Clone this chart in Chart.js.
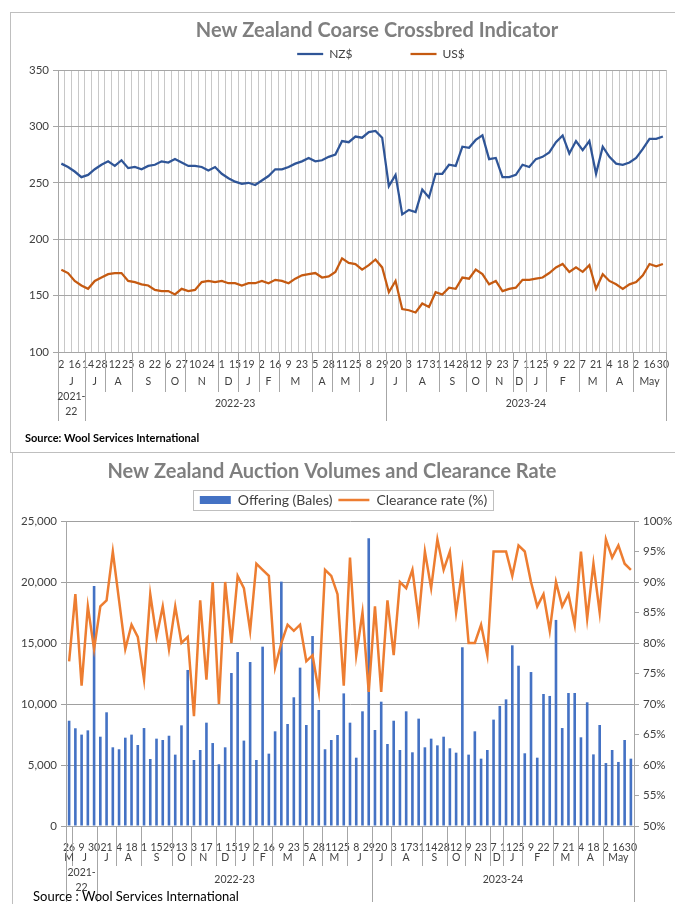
<!DOCTYPE html>
<html><head><meta charset="utf-8">
<script src="https://cdn.jsdelivr.net/npm/chart.js@4.4.1/dist/chart.umd.min.js"></script>
<style>
html,body{margin:0;padding:0;background:#fff;}
body{width:675px;height:904px;position:relative;overflow:hidden;}
.wrap{position:absolute;left:0;width:675px;height:452px;}
#w1{top:0}
#w2{top:452px}
.frame{position:absolute;border:1px solid #bfbfbf;box-sizing:border-box;pointer-events:none;z-index:2}
</style></head><body>
<div class="wrap" id="w1"><canvas id="c1" width="675" height="452"></canvas></div>
<div class="wrap" id="w2"><canvas id="c2" width="675" height="452"></canvas></div>
<div class="frame" style="left:10px;top:12px;width:700px;height:441px"></div>
<div class="frame" style="left:12px;top:452px;width:700px;height:470px"></div>
<script>
// ---------- DATA ----------
const topDayLabels = ['2','16','14','28','12','25','8','22','6','27','10','24','1','15','19','2','16','9','23','5','28','11','25','8','29','20','3','17','31','14','28','12','9','23','7','11','25','9','22','7','21','4','18','2','16','30'];
const topMonths = ['J','J','A','S','O','N','D','J','F','M','A','M','J','J','A','S','O','N','D','J','F','M','A','May'];
const topMonthSizes = [4,3,4,5,3,5,3,3,3,5,3,4,4,3,5,4,3,4,2,3,5,4,4,5];
const topSeasons = ['2021-\n22','2022-23','2023-24'];
const topSeasonSizes = [4,45,42];

const nzd = [267,264,260,255,257,262,266,269,265,270,263,264,262,265,266,269,268,271,268,265,
  265,264,261,264,258,254,251,249,250,248,252,256,262,262,264,267,269,272,269,270,
  273,275,287,286,291,290,295,296,290,247,257,222,226,224,244,237,258,258,266,265,
  282,281,288,292,271,272,255,255,257,266,264,271,273,277,286,292,276,287,279,287,
  258,282,273,267,266,268,272,280,289,289,291];
const usd = [173,170,163,159,156,163,166,169,170,170,163,162,160,159,155,154,154,151,156,154,
  155,162,163,162,163,161,161,159,161,161,163,161,164,163,161,165,168,169,170,166,
  167,171,183,179,178,173,177,182,175,153,163,138,137,135,143,140,153,151,157,156,
  166,165,173,169,160,163,154,156,157,164,164,165,166,170,175,178,171,175,171,177,
  156,169,163,160,156,160,162,168,178,176,178];

const bottomDayLabels = ['26','9','30','21','4','18','1','15','29','13','3','17','1','15','19','2','16','9','23','5','28','11','25','8','29','20','3','17','31','14','28','12','9','23','7','11','25','9','22','7','21','4','18','2','16','30'];
const bottomMonths = ['M','J','J','A','S','O','N','D','J','F','M','A','M','J','J','A','S','O','N','D','J','F','M','A','May'];
const bottomMonthSizes = [1,4,3,4,5,3,4,3,3,3,5,3,4,4,3,5,4,3,4,2,3,5,4,4,5];
const bottomSeasons = ['2021-\n22','2022-23','2023-24'];
const bottomSeasonSizes = [5,44,42];

const offering = [8630,8010,7490,7840,19670,7320,9320,6450,6290,7240,7490,6640,8030,5490,7160,7050,7400,5850,8250,12790,
  5410,6230,8470,6800,5060,6450,12540,14260,7000,13440,5410,14700,5930,7760,20030,8360,10550,12980,8280,15570,
  9510,6290,7050,7460,10870,8470,5600,9400,23580,7870,10190,6720,8630,6230,9400,6040,8800,6450,7160,6610,
  7320,6370,6010,14650,5850,7760,5520,6230,8720,9840,10380,14810,13140,5960,12620,5600,10820,10660,16890,8030,
  10900,10900,7270,10140,5870,8280,5160,6230,5250,7050,5520];
const clearance = [77,88,73,86,79,86,87,95,87,79,83,81,74,88,81,86,79,86,80,81,
  68,87,74,90,70,90,80,91,89,82,93,92,91,76,80,83,82,83,77,78,
  72,92,91,88,73,94,78,85,72,86,72,87,78,90,89,92,84,95,89,97,
  92,95,85,92,80,80,83,78,95,95,95,91,96,95,90,86,88,82,90,86,
  88,83,95,84,93,85,97,94,96,93,92];

const leftTicks = [0,5000,10000,15000,20000,25000];
const rightTicks = [50,55,60,65,70,75,80,85,90,95,100];

// ---------- HELPERS ----------
function buildCategories(dayLabels, n) {
  const out = [];
  for (let i = 0; i < n; i++) out.push(i % 2 === 0 ? (dayLabels[i / 2] || '') : '');
  return out;
}
Chart.defaults.font.family = 'Lato, "Liberation Sans", sans-serif';
Chart.defaults.color = '#404040';
const fmt = new Intl.NumberFormat('en-US');

const groupAxisPlugin = {
  id: 'groupAxis',
  afterLayout(chart, args, o) {
    if (o.titleShift && chart.titleBlock) { chart.titleBlock.left += o.titleShift; chart.titleBlock.right += o.titleShift; }
    if (o.legendShift && chart.legend) { chart.legend.left += o.legendShift; chart.legend.right += o.legendShift; }
  },
  afterDraw(chart, args, o) {
    if (!o || !o.months) return;
    const ctx = chart.ctx, xs = chart.scales.x, area = chart.chartArea;
    const step = xs.getPixelForValue(1) - xs.getPixelForValue(0);
    const edge = i => xs.getPixelForValue(0) - step / 2 + i * step;
    ctx.save();
    ctx.strokeStyle = o.lineColor; ctx.lineWidth = 1;
    const vline = (x, y1) => { const xx = Math.round(x) + 0.5; ctx.beginPath(); ctx.moveTo(xx, area.bottom); ctx.lineTo(xx, y1); ctx.stroke(); };
    ctx.fillStyle = o.textColor; ctx.font = o.font; ctx.textAlign = 'center'; ctx.textBaseline = 'middle';
    let s = 0;
    o.months.forEach((m, k) => {
      const a = edge(s), b = edge(s + o.monthSizes[k]);
      if (k === 0) vline(a, o.monthLineBottom);
      vline(b, o.monthLineBottom);
      ctx.fillText(m, (a + b) / 2, o.monthY);
      s += o.monthSizes[k];
    });
    s = 0;
    o.seasons.forEach((name, k) => {
      const a = edge(s), b = edge(s + o.seasonSizes[k]);
      if (k === 0) vline(a, o.seasonLineBottom);
      vline(b, o.seasonLineBottom);
      const lines = name.split('\n');
      lines.forEach((ln, j) => ctx.fillText(ln, (a + b) / 2, o.seasonY + (j - (lines.length - 1) / 2) * o.seasonLineHeight));
      s += o.seasonSizes[k];
    });
    ctx.textAlign = 'left'; ctx.font = o.sourceFont; ctx.fillStyle = '#000';
    ctx.fillText(o.sourceText, o.sourceX, o.sourceY);
    if (o.legendBox && chart.legend && chart.legend.legendHitBoxes.length) {
      const hb = chart.legend.legendHitBoxes;
      const l = Math.min(...hb.map(h => h.left)) - 7;
      const r = Math.max(...hb.map(h => h.left + h.width)) + 6;
      const t = hb[0].top - 3, btm = hb[0].top + hb[0].height + 3;
      ctx.strokeStyle = '#bfbfbf';
      ctx.strokeRect(Math.round(l) + 0.5, Math.round(t) + 0.5, Math.round(r - l), Math.round(btm - t));
    }
    ctx.restore();
  }
};

// ---------- TOP CHART ----------
const topCats = buildCategories(topDayLabels, nzd.length);
new Chart(document.getElementById('c1'), {
  type: 'line',
  data: {
    labels: topCats,
    datasets: [
      { label: 'NZ$', data: nzd, borderColor: '#2F5597', backgroundColor: '#2F5597', borderWidth: 2.25, pointRadius: 0, tension: 0, pointStyle: 'line' },
      { label: 'US$', data: usd, borderColor: '#C55A11', backgroundColor: '#C55A11', borderWidth: 2.25, pointRadius: 0, tension: 0, pointStyle: 'line' }
    ]
  },
  options: {
    responsive: false, animation: false,
    layout: { padding: { top: 12, left: 12, right: 3, bottom: 0 } },
    plugins: {
      tooltip: { enabled: false },
      title: { display: true, text: 'New Zealand Coarse Crossbred Indicator', color: '#7f7f7f',
        font: { size: 20, weight: 'bold' }, padding: { top: 7, bottom: -8 } },
      legend: { display: true, position: 'top',
        labels: { usePointStyle: true, pointStyleWidth: 26, padding: 13, font: { size: 12 }, color: '#404040',
          generateLabels(chart) {
            const items = Chart.defaults.plugins.legend.labels.generateLabels(chart);
            items.splice(1, 0, { text: '', fillStyle: 'rgba(0,0,0,0)', strokeStyle: 'rgba(0,0,0,0)', lineWidth: 0, pointStyle: 'line', hidden: false, datasetIndex: null });
            return items;
          } } },
      groupAxis: {
        titleShift: 35, legendShift: 39,
        months: topMonths, monthSizes: topMonthSizes, seasons: topSeasons, seasonSizes: topSeasonSizes,
        lineColor: '#a6a6a6', textColor: '#404040', font: '10.5px Lato, "Liberation Sans", sans-serif',
        monthY: 382, monthLineBottom: 392, seasonY: 404, seasonLineBottom: 421, seasonLineHeight: 15,
        sourceText: 'Source: Wool Services International', sourceFont: 'bold 11px Lato, "Liberation Sans", sans-serif',
        sourceX: 25, sourceY: 438
      }
    },
    scales: {
      x: {
        offset: true,
        grid: { display: true, offset: true, color: '#c8c8c8', drawTicks: false },
        border: { color: '#a6a6a6' },
        ticks: { autoSkip: false, maxRotation: 0, minRotation: 0, padding: 6, font: { size: 10.5 }, color: '#404040' },
        afterFit(s) { s.height = 100; }
      },
      y: {
        min: 100, max: 350,
        ticks: { stepSize: 50, padding: 4, font: { size: 11.5 }, color: '#404040' },
        grid: { color: '#a6a6a6', drawTicks: true, tickLength: 5 },
        border: { color: '#a6a6a6' },
        afterFit(s) { s.width = 46; }
      }
    }
  },
  plugins: [groupAxisPlugin]
});

// ---------- BOTTOM CHART ----------
const botCats = buildCategories(bottomDayLabels, offering.length);
new Chart(document.getElementById('c2'), {
  type: 'bar',
  data: {
    labels: botCats,
    datasets: [
      { type: 'bar', label: 'Offering (Bales)', data: offering, backgroundColor: '#4472C4', borderWidth: 0,
        barPercentage: 0.42, categoryPercentage: 1, yAxisID: 'y', order: 2, pointStyle: 'rect' },
      { type: 'line', label: 'Clearance rate (%)', data: clearance, borderColor: '#ED7D31', backgroundColor: '#ED7D31',
        borderWidth: 2.5, pointRadius: 0, tension: 0, yAxisID: 'y1', order: 1, pointStyle: 'line' }
    ]
  },
  options: {
    responsive: false, animation: false,
    layout: { padding: { top: 2, left: 12, right: 0, bottom: 0 } },
    plugins: {
      tooltip: { enabled: false },
      title: { display: true, text: 'New Zealand Auction Volumes and Clearance Rate', color: '#7f7f7f',
        font: { size: 20, weight: 'bold' }, padding: { top: 6, bottom: 3 } },
      subtitle: { display: true, text: '', font: { size: 1 }, padding: { top: 2.8, bottom: 0 }, weight: 500 },
      legend: { display: true, position: 'top',
        labels: { usePointStyle: true, pointStyleWidth: 31, boxHeight: 8, padding: 6, font: { size: 14 }, color: '#404040',
          sort: (a, b) => a.datasetIndex - b.datasetIndex } },
      groupAxis: {
        titleShift: -11.5, legendBox: true,
        months: bottomMonths, monthSizes: bottomMonthSizes, seasons: bottomSeasons, seasonSizes: bottomSeasonSizes,
        lineColor: '#a6a6a6', textColor: '#404040', font: '10.5px Lato, "Liberation Sans", sans-serif',
        monthY: 406, monthLineBottom: 414, seasonY: 428, seasonLineBottom: 450, seasonLineHeight: 15,
        sourceText: 'Source : Wool Services International', sourceFont: '13px Lato, "Liberation Sans", sans-serif',
        sourceX: 33, sourceY: 445
      }
    },
    scales: {
      x: {
        offset: true,
        grid: { display: false },
        border: { color: '#a6a6a6' },
        ticks: { autoSkip: false, maxRotation: 0, minRotation: 0, padding: 7, font: { size: 10.5 }, color: '#404040' },
        afterFit(s) { s.height = 78; }
      },
      y: {
        position: 'left', min: 0, max: 25000,
        ticks: { stepSize: 5000, padding: 4, font: { size: 11.5 }, color: '#404040', callback: v => fmt.format(v) },
        grid: { color: '#a0a0a0', drawTicks: true, tickLength: 5 },
        border: { color: '#a6a6a6' },
        afterBuildTicks(s) { s.ticks = leftTicks.map(v => ({ value: v })); },
        afterFit(s) { s.width = 54; }
      },
      y1: {
        position: 'right', min: 50, max: 100,
        ticks: { stepSize: 5, padding: 4, font: { size: 11.5 }, color: '#404040', callback: v => v + '%' },
        grid: { drawOnChartArea: false, color: '#a6a6a6', drawTicks: true, tickLength: 5 },
        border: { color: '#a6a6a6' },
        afterBuildTicks(s) { s.ticks = rightTicks.map(v => ({ value: v })); },
        afterFit(s) { s.width = 41; }
      }
    }
  },
  plugins: [groupAxisPlugin]
});
</script>
</body></html>
